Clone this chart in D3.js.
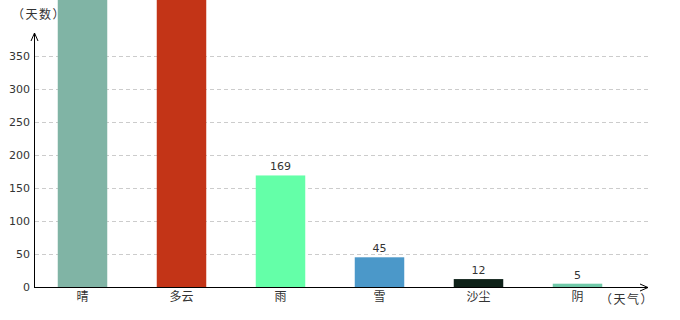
<!DOCTYPE html>
<html><head><meta charset="utf-8">
<script src="https://cdn.jsdelivr.net/npm/d3@7"></script>
<style>body{margin:0;background:#fff}svg{display:block}</style>
</head><body><svg id="c" width="680" height="320"></svg>
<script>
const categories = ["晴","多云","雨","雪","沙尘","阴"];
const values = [612, 498, 169, 45, 12, 5];
const colors = ["#80b4a5","#c33417","#64ffa8","#4b98c9","#0f2219","#70c9a9"];
const yTicks = [0,50,100,150,200,250,300,350];

const svg = d3.select("#c");
const x0 = 34, y0 = 287;
const x = d3.scaleBand().domain(categories).range([33, 627]).paddingInner(0.5).paddingOuter(0.25);
const y = d3.scaleLinear().domain([0, 350]).range([y0, 56]);
const font = "'DejaVu Sans', Verdana, sans-serif";
const cjk = "'Noto Sans CJK SC', sans-serif";

// grid
svg.append("g").selectAll("line").data(yTicks.filter(d=>d>0)).join("line")
  .attr("x1", x0+1).attr("x2", 648).attr("y1", d=>Math.round(y(d))+0.5).attr("y2", d=>Math.round(y(d))+0.5)
  .attr("stroke", "#ccc").attr("stroke-dasharray", "4,3");

// bars
svg.append("g").selectAll("rect").data(values).join("rect")
  .attr("x", (d,i)=>x(categories[i])).attr("width", x.bandwidth())
  .attr("y", d=>y(d)).attr("height", d=>y0 - y(d)).attr("fill", (d,i)=>colors[i]);

// value labels (only those inside the visible plot)
svg.append("g").selectAll("text").data(values.map((v,i)=>({v,i})).filter(d=>y(d.v) > 20)).join("text")
  .attr("x", d=>x(categories[d.i]) + x.bandwidth()/2).attr("y", d=>y(d.v)-5)
  .attr("text-anchor","middle").attr("font-family", font).attr("font-size", 11).attr("fill","#333")
  .text(d=>d.v);

// y axis tick labels
svg.append("g").selectAll("text").data(yTicks).join("text")
  .attr("x", 30).attr("y", d=>y(d)+4).attr("text-anchor","end")
  .attr("font-family", font).attr("font-size", 11).attr("fill","#333").text(d=>d);

// category labels
svg.append("g").selectAll("text").data(categories).join("text")
  .attr("x", d=>x(d)+x.bandwidth()/2).attr("y", 301).attr("text-anchor","middle")
  .attr("font-family", cjk).attr("font-size", 12).attr("fill","#333").text(d=>d);

// axes lines with arrows
svg.append("line").attr("x1", x0+0.5).attr("x2", x0+0.5).attr("y1", y0).attr("y2", 33).attr("stroke","#000");
svg.append("path").attr("d", `M${x0+0.5-3.5},${41} L${x0+0.5},${33} L${x0+0.5+3.5},${41}`).attr("fill","none").attr("stroke","#000");
svg.append("line").attr("x1", x0).attr("x2", 648).attr("y1", y0+0.5).attr("y2", y0+0.5).attr("stroke","#000");
svg.append("path").attr("d", `M${640},${y0+0.5-3.5} L${648},${y0+0.5} L${640},${y0+0.5+3.5}`).attr("fill","none").attr("stroke","#000");

// axis names
svg.append("text").attr("x", 39).attr("y", 19).attr("text-anchor","middle").attr("font-family", cjk).attr("font-size", 12).attr("letter-spacing", 1.5).attr("fill","#333").text("（天数）");
svg.append("text").attr("x", 627).attr("y", 304).attr("text-anchor","middle").attr("font-family", cjk).attr("font-size", 12).attr("letter-spacing", 1.5).attr("fill","#333").text("（天气）");
</script></body></html>
